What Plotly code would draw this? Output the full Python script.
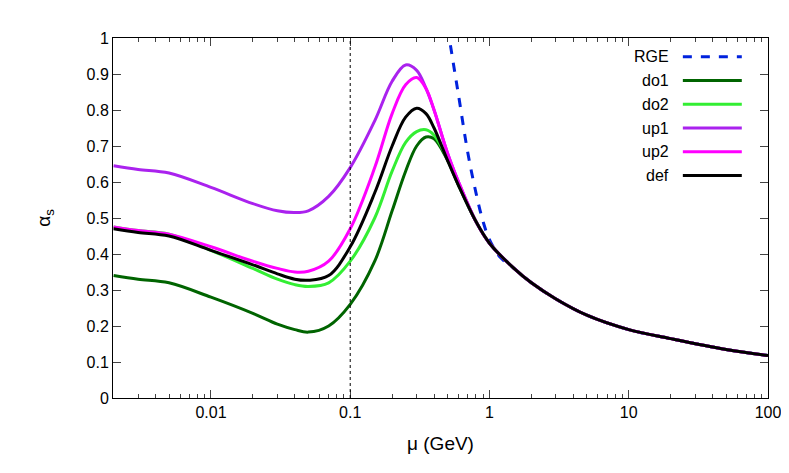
import plotly.graph_objects as go
import math

mu = [0.002,0.003,0.005,0.01,0.02,0.03,0.04,0.05,0.07,0.1,0.15,0.2,0.25,0.3,0.35,0.4,0.5,0.6,0.8,1,1.5,2,3,5,10,20,50,100]
tail = [0.43,0.36,0.32,0.275,0.23,0.19,0.165,0.135,0.118]
def_v = [0.47,0.46,0.45,0.41,0.37,0.345,0.33,0.327,0.34,0.42,0.57,0.70,0.78,0.805,0.79,0.75,0.66,0.59,0.49]+tail
do1 = [0.34,0.33,0.32,0.28,0.235,0.205,0.19,0.183,0.20,0.26,0.38,0.52,0.63,0.70,0.725,0.72,0.66,0.59,0.49]+tail
do2 = [0.475,0.465,0.455,0.41,0.36,0.33,0.315,0.31,0.32,0.38,0.50,0.63,0.71,0.74,0.745,0.73,0.665,0.595,0.49]+tail
up1 = [0.645,0.635,0.625,0.585,0.54,0.52,0.515,0.52,0.56,0.64,0.77,0.88,0.925,0.91,0.86,0.80,0.68,0.60,0.49]+tail
up2 = [0.475,0.465,0.455,0.42,0.38,0.36,0.35,0.352,0.38,0.47,0.64,0.79,0.87,0.89,0.86,0.80,0.68,0.60,0.49]+tail
rge_mu = [0.5,0.55,0.6,0.7,0.8,0.9,1,1.2,1.5,2,3,5,10,20,50,100]
rge_v = [1.03,0.93,0.84,0.68,0.57,0.49,0.44,0.39,0.36,0.32,0.275,0.23,0.19,0.165,0.135,0.118]
yticks = [0,0.1,0.2,0.3,0.4,0.5,0.6,0.7,0.8,0.9,1]
yticklabels = ["0","0.1","0.2","0.3","0.4","0.5","0.6","0.7","0.8","0.9","1"]

series = [("RGE",rge_mu,rge_v,"#0022dd","dash"),("do1",mu,do1,"#006400","solid"),
          ("do2",mu,do2,"#33ee33","solid"),("up1",mu,up1,"#aa22ee","solid"),
          ("up2",mu,up2,"#ff00ff","solid"),("def",mu,def_v,"#000000","solid")]

fig = go.Figure()
for name,x,y,c,d in series:
    fig.add_trace(go.Scatter(x=x,y=y,mode="lines",line=dict(color=c,width=3,dash=d,shape="spline",smoothing=1.0),showlegend=False))
for i,(name,x,y,c,d) in enumerate(series):
    yy = 0.948-i*0.066
    fig.add_annotation(xref="paper",yref="y",x=0.852,y=yy,text=name,showarrow=False,xanchor="right",font=dict(size=16,color="black"))
    fig.add_shape(type="line",xref="paper",yref="y",x0=0.87,x1=0.96,y0=yy,y1=yy,line=dict(color=c,width=3,dash=d))
fig.add_shape(type="line",xref="x",yref="paper",x0=0.1,x1=0.1,y0=0,y1=1,line=dict(color="black",width=1,dash="dot"))

fig.update_layout(width=789,height=473,plot_bgcolor="white",paper_bgcolor="white",
    margin=dict(l=105,r=29,t=30,b=83,autoexpand=False),font=dict(family="Liberation Sans, Arial",size=16,color="black"))
fig.update_xaxes(type="log",range=[math.log10(0.00198),2],tickvals=[0.01,0.1,1,10,100],ticktext=["0.01","0.1","1","10","100"],
    ticks="inside",ticklen=8,mirror="allticks",showline=True,linecolor="black",linewidth=1,showgrid=False,
    minor=dict(ticks="inside",ticklen=4,tickvals=[k*10**e for e in range(-3,2) for k in range(2,10)]),
    title=dict(text="μ (GeV)",standoff=16))
fig.update_yaxes(range=[0,1],tickvals=yticks,ticktext=yticklabels,ticks="inside",ticklen=8,mirror="allticks",showline=True,linecolor="black",linewidth=1,showgrid=False,
    zeroline=False,title=dict(text="α<sub>s</sub>",standoff=30))
fig.write_html("out.html")
